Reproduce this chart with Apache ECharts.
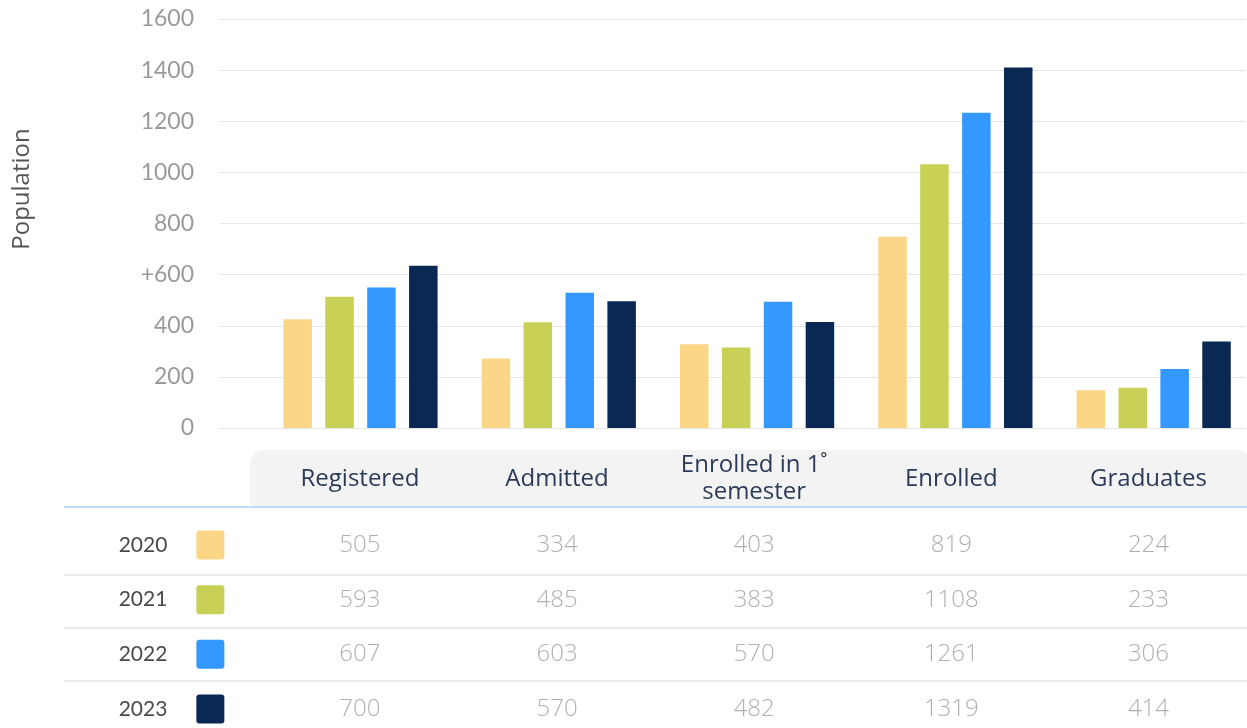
<!DOCTYPE html>
<html>
<head>
<meta charset="utf-8">
<script src="https://cdn.jsdelivr.net/npm/echarts@6/dist/echarts.min.js"></script>
<style>
html,body{margin:0;padding:0;background:#fff;}
#chart{width:1247px;height:728px;}
</style>
</head>
<body>
<div id="chart"></div>
<script>
// ---- data ----
var categories = ['Registered', 'Admitted', 'Enrolled in 1˚\nsemester', 'Enrolled', 'Graduates'];
var years = ['2020', '2021', '2022', '2023'];
var yearColors = ['#FBD687', '#C8D056', '#3399FF', '#0A2854'];
// bar heights as drawn
var bars2020 = [425, 272, 328, 748, 148];
var bars2021 = [513, 414, 315, 1032, 157];
var bars2022 = [550, 529, 494, 1233, 231];
var bars2023 = [635, 496, 415, 1410, 338];
// table values as printed
var table2020 = [505, 334, 403, 819, 224];
var table2021 = [593, 485, 383, 1108, 233];
var table2022 = [607, 603, 570, 1261, 306];
var table2023 = [700, 570, 482, 1319, 414];
var yTicks = ['0', '200', '400', '+600', '800', '1000', '1200', '1400', '1600'];
var yAxisTitle = 'Population';

var barSets = [bars2020, bars2021, bars2022, bars2023];
var tableSets = [table2020, table2021, table2022, table2023];

var FONT = '"Open Sans", Lato, sans-serif';

var chart = echarts.init(document.getElementById('chart'));

var series = [];
barSets.forEach(function (arr, si) {
  series.push({
    type: 'bar',
    name: years[si],
    xAxisIndex: 0,
    yAxisIndex: 0,
    barWidth: 28.5,
    barGap: '47%',
    itemStyle: { color: yearColors[si] },
    data: arr.map(function (v, i) { return [i, v]; })
  });
});

var cellData = [];
tableSets.forEach(function (arr, yi) {
  arr.forEach(function (v, ci) { cellData.push([ci, yi, v]); });
});
series.push({
  type: 'scatter',
  xAxisIndex: 1,
  yAxisIndex: 1,
  symbolSize: 1,
  itemStyle: { color: 'rgba(0,0,0,0)' },
  silent: true,
  label: {
    show: true,
    position: 'inside',
    formatter: function (p) { return String(p.value[2]); },
    color: '#9c9c9c',
    fontFamily: FONT,
    fontWeight: 300,
    fontSize: 24
  },
  data: cellData
});

var rich = {
  y: { fontFamily: 'Lato, sans-serif', fontSize: 21, color: '#4a4a4a', fontWeight: 400, padding: [0, 29, 0, 0] }
};
yearColors.forEach(function (c, i) {
  rich['s' + i] = { width: 28, height: 29, backgroundColor: c, borderRadius: 3 };
});

var option = {
  animation: false,
  grid: [
    { left: 220, right: 1, top: 19, height: 409 },
    { left: 261.35, width: 991.5, top: 545, height: 164 }
  ],
  xAxis: [
    {
      gridIndex: 0, type: 'value', min: -0.7085, max: 4.4655,
      show: false, splitLine: { show: false }
    },
    {
      gridIndex: 1, type: 'category', data: categories, position: 'top',
      axisLine: { show: false }, axisTick: { show: false }, splitLine: { show: false },
      axisLabel: {
        margin: 66, verticalAlign: 'middle', interval: 0,
        color: '#2B3A57', fontFamily: FONT, fontSize: 24, lineHeight: 27
      }
    }
  ],
  yAxis: [
    {
      gridIndex: 0, type: 'value', min: 0, max: 1600, interval: 200,
      axisLine: { show: false }, axisTick: { show: false },
      splitLine: { lineStyle: { color: '#e6e6e6', width: 1.2 } },
      axisLabel: {
        margin: 26, color: '#9a9a9a', fontFamily: 'Lato, sans-serif', fontSize: 23,
        formatter: function (v) { return yTicks[Math.round(v / 200)]; }
      }
    },
    {
      gridIndex: 1, type: 'category', data: years, inverse: true, boundaryGap: false,
      axisLine: { show: false }, axisTick: { show: false }, splitLine: { show: false },
      axisLabel: {
        margin: 37,
        formatter: function (v, i) { return '{y|' + v + '}{s' + i + '|}'; },
        rich: rich
      }
    }
  ],
  graphic: [
    { type: 'text', x: 22, y: 189, rotation: Math.PI / 2,
      style: { text: yAxisTitle, fill: '#555', font: '24px ' + FONT, textAlign: 'center', textVerticalAlign: 'middle' } },
    { type: 'rect', z: -1, shape: { x: 250, y: 450, width: 1000, height: 57, r: [14, 14, 0, 0] }, style: { fill: '#f3f3f3' } },
    { type: 'line', shape: { x1: 64, y1: 507, x2: 1247, y2: 507 }, style: { stroke: '#bcdcf8', lineWidth: 2 } },
    { type: 'line', shape: { x1: 64, y1: 575, x2: 1247, y2: 575 }, style: { stroke: '#e4e4e4', lineWidth: 1.5 } },
    { type: 'line', shape: { x1: 64, y1: 628, x2: 1247, y2: 628 }, style: { stroke: '#e4e4e4', lineWidth: 1.5 } },
    { type: 'line', shape: { x1: 64, y1: 681, x2: 1247, y2: 681 }, style: { stroke: '#e4e4e4', lineWidth: 1.5 } }
  ],
  series: series
};
chart.setOption(option);
</script>
</body>
</html>
